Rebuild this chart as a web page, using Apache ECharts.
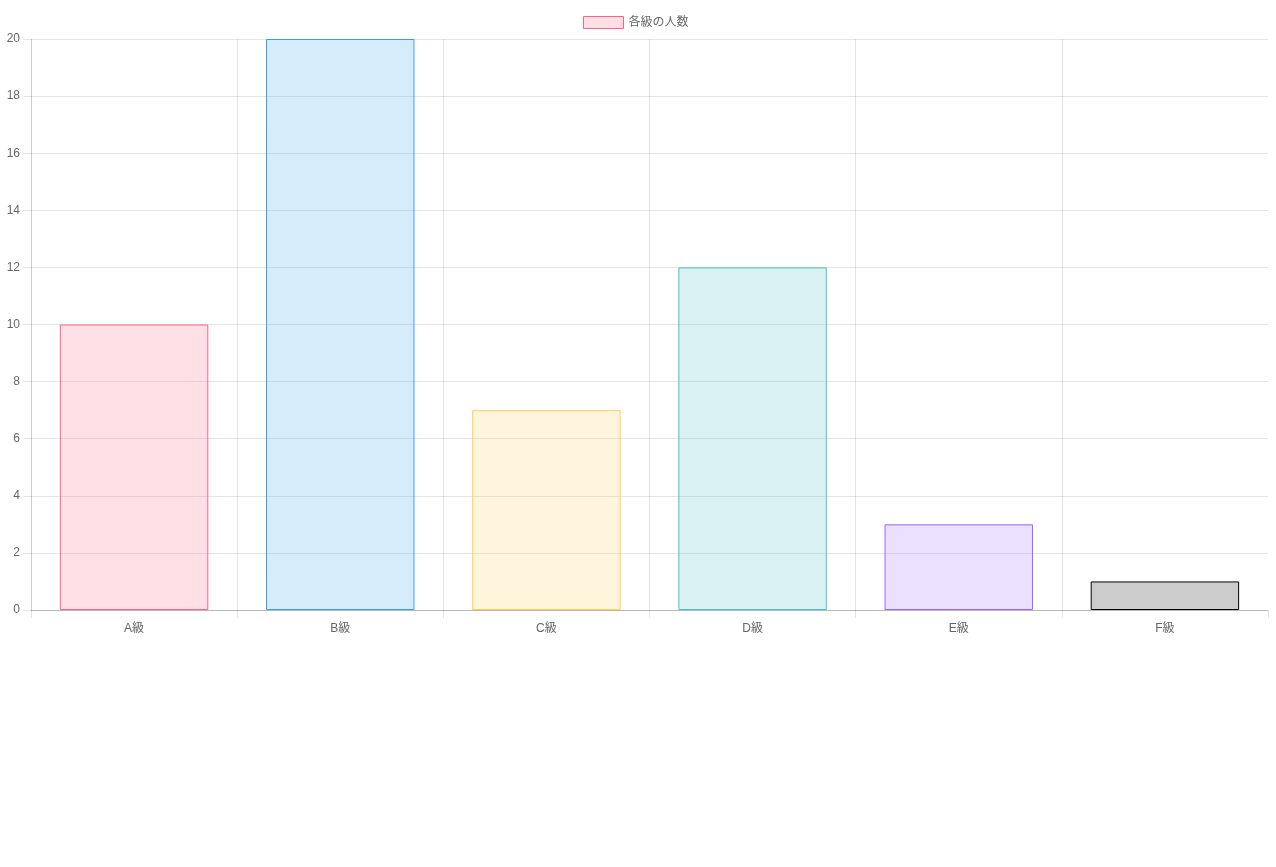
<!DOCTYPE html>
<html>
<head>
<meta charset="utf-8">
<script src="https://cdn.jsdelivr.net/npm/echarts@6/dist/echarts.min.js"></script>
<style>
  html, body { margin: 0; padding: 0; background: #fff; }
  #chart { width: 1276px; height: 867px; }
</style>
</head>
<body>
<div id="chart"></div>
<script>
// Grade distribution
const categories = ['A級', 'B級', 'C級', 'D級', 'E級', 'F級'];
const counts = [10, 20, 7, 12, 3, 1];
const seriesName = '各級の人数';
const fills = [
  'rgba(255,99,132,0.2)',
  'rgba(54,162,235,0.2)',
  'rgba(255,206,86,0.2)',
  'rgba(75,192,192,0.2)',
  'rgba(153,102,255,0.2)',
  'rgba(0,0,0,0.2)'
];
const borders = [
  'rgb(255,99,132)',
  'rgb(54,162,235)',
  'rgb(255,206,86)',
  'rgb(75,192,192)',
  'rgb(153,102,255)',
  'rgb(0,0,0)'
];

const font = '"Liberation Sans", Arial, "Noto Sans CJK JP", sans-serif';
const gridColor = 'rgba(0,0,0,0.1)';

const chart = echarts.init(document.getElementById('chart'), null, { renderer: 'canvas' });
chart.setOption({
  animation: false,
  textStyle: { fontFamily: font },
  legend: {
    top: 11,
    left: 578,
    icon: 'rect',
    itemWidth: 40,
    itemHeight: 12,
    itemGap: 10,
    textStyle: { fontSize: 12, color: '#666', fontFamily: font },
    data: [{
      name: seriesName,
      itemStyle: { color: fills[0], borderColor: borders[0], borderWidth: 1 }
    }]
  },
  grid: { left: 31, right: 8, top: 39, bottom: 257, containLabel: false },
  xAxis: {
    type: 'category',
    data: categories,
    boundaryGap: true,
    z: 3,
    axisLine: { show: true, lineStyle: { color: 'rgba(0,0,0,0.2)' } },
    axisTick: { show: true, length: 8, lineStyle: { color: gridColor } },
    axisLabel: { color: '#666', fontSize: 12, margin: 13, fontFamily: font },
    splitLine: { show: true, showMaxLine: false, lineStyle: { color: gridColor } }
  },
  yAxis: {
    type: 'value',
    min: 0,
    max: 20,
    interval: 2,
    axisLine: { show: true, lineStyle: { color: gridColor } },
    axisTick: { show: true, length: 8, lineStyle: { color: gridColor } },
    axisLabel: { color: '#666', fontSize: 12, margin: 11, fontFamily: font },
    splitLine: { show: true, lineStyle: { color: gridColor } }
  },
  series: [{
    name: seriesName,
    type: 'bar',
    barWidth: '72%',
    itemStyle: { color: fills[0], borderColor: borders[0], borderWidth: 1 },
    data: counts.map((v, i) => ({
      value: v,
      itemStyle: { color: fills[i], borderColor: borders[i], borderWidth: 1 }
    }))
  }]
});
</script>
</body>
</html>
